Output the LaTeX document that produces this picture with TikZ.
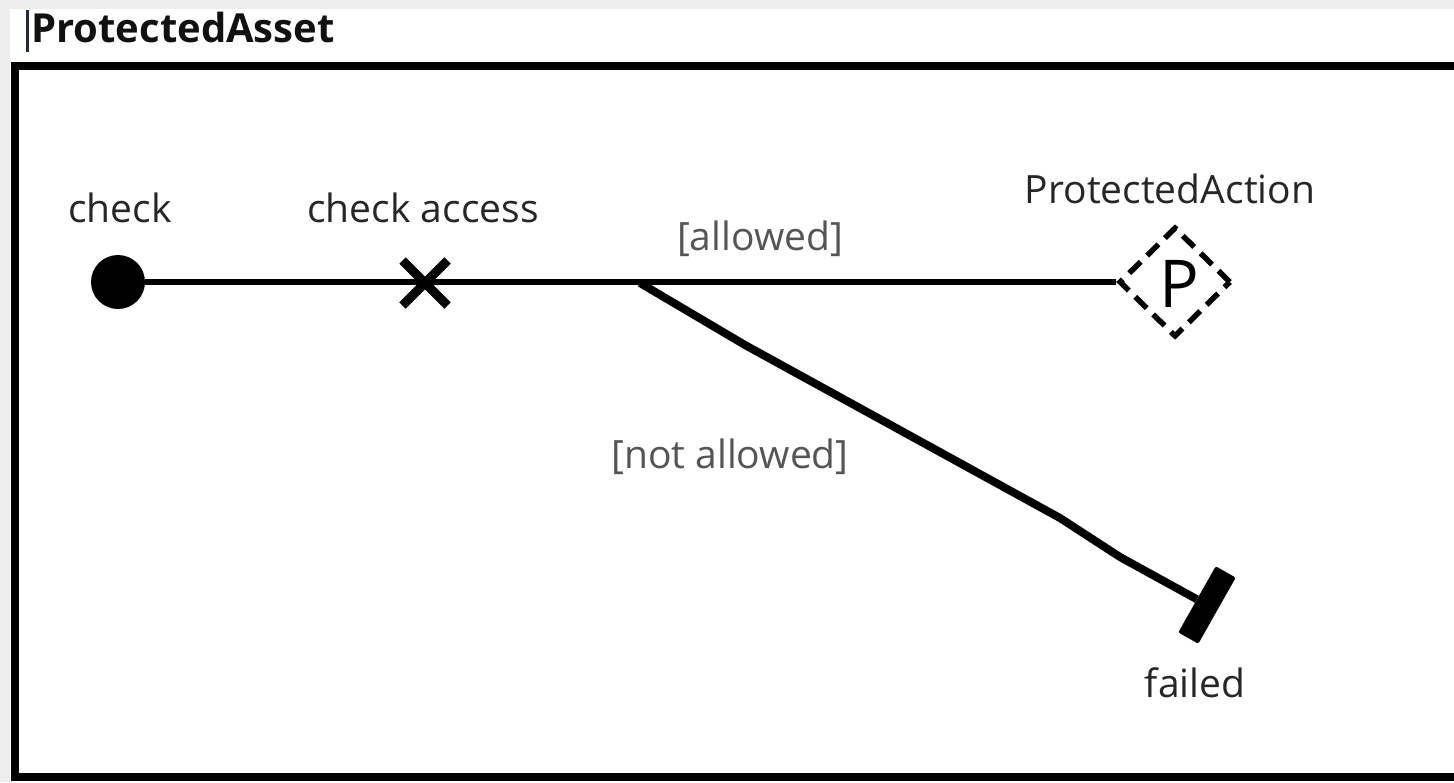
\documentclass[tikz,border=0pt]{standalone}
\usepackage{fontspec}
\setmainfont{Open Sans}
\usetikzlibrary{shapes.geometric,shapes.misc}
\definecolor{labelc}{HTML}{262626}
\definecolor{guardc}{HTML}{555555}
\definecolor{titlec}{HTML}{111111}
\definecolor{bggray}{HTML}{EEEEEE}
\definecolor{cursorc}{HTML}{1F2A44}
\begin{document}
\begin{tikzpicture}[x=1pt,y=-1pt,
  lbl/.style={text=labelc, font=\fontsize{39}{44}\selectfont, inner sep=0pt, anchor=base},
  guard/.style={lbl, text=guardc},
  conn/.style={line width=6.5pt, draw=black},
  framec/.style={line width=8pt, draw=black},
]
\useasboundingbox (0,0) rectangle (1454,782);
\fill[bggray] (0,0) rectangle (1454,782);
\fill[white] (10,9) rectangle (1454,782);
\draw[framec] (1470,66) -- (15,66) -- (15,777) -- (1470,777);
% title
\draw[line width=3pt, cursorc] (27,10) -- (27,52);
\node[anchor=base west, font=\bfseries\fontsize{40}{44}\selectfont, text=titlec, inner sep=0pt] (title) at (31,42) {ProtectedAsset};
% nodes
\node[circle, fill=black, minimum size=54pt, inner sep=0pt] (start) at (118,282) {};
\node[cross out, draw=black, line width=9pt, minimum size=36pt, inner sep=0pt] (cross) at (425,283) {};
\coordinate (branch) at (640,283);
\node[diamond, draw=black, line width=5.5pt, dash pattern=on 16pt off 9pt, minimum width=112pt, minimum height=110pt, inner sep=0pt] (pa) at (1175,282) {};
\node[font=\fontsize{66}{66}\selectfont, inner sep=0pt, text=black] (ptext) at (1179,284) {P};
\node[rectangle, fill=black, minimum width=23pt, minimum height=76pt, inner sep=0pt, rotate=-29.5, rounded corners=2pt] (final) at (1207,605) {};
% connectors
\draw[conn] (start.east) -- (pa.west);
\draw[line width=8pt, line join=round] (branch) -- (745,345) -- (1060,518) -- (1120,557) -- (final.west);
% labels
\node[lbl] (lcheck) at (120,222) {check};
\node[lbl] (lcheckacc) at (423,222) {check access};
\node[lbl] (lpa) at (1170,203) {ProtectedAction};
\node[guard] (lallowed) at (760,250) {[allowed]};
\node[guard] (lnot) at (730,468) {[not allowed]};
\node[lbl] (lfailed) at (1195,697) {failed};
\end{tikzpicture}
\end{document}
